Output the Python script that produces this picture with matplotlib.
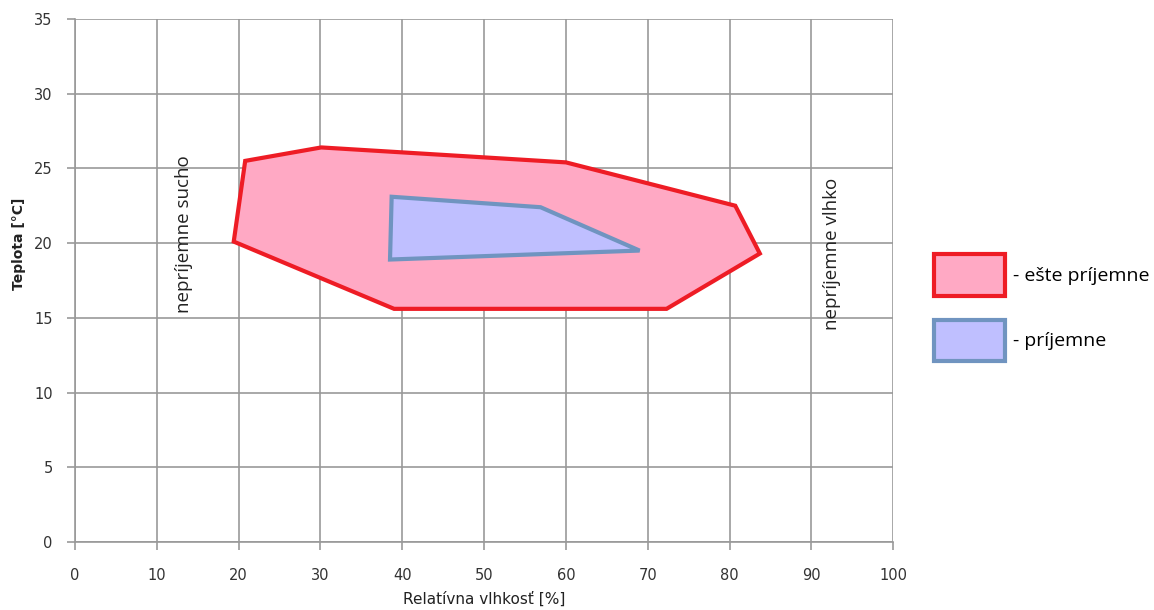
import matplotlib
matplotlib.use("Agg")
import matplotlib.pyplot as plt
from matplotlib.patches import Polygon

# comfort zones (relative humidity %, temperature °C)
still_ok_rh = [19.4, 20.8, 30.1, 60.0, 80.7, 83.7, 72.3, 39.0]
still_ok_t = [20.1, 25.5, 26.4, 25.4, 22.5, 19.3, 15.6, 15.6]
comfort_rh = [38.7, 56.9, 69.0, 38.5]
comfort_t = [23.1, 22.4, 19.5, 18.9]

x_ticks = list(range(0, 101, 10))
y_ticks = list(range(0, 36, 5))

zone_labels = ["- ešte príjemne", "- príjemne"]
side_notes = [("nepríjemne sucho", 13.3, 20.6), ("nepríjemne vlhko", 92.5, 19.3)]

plt.rcParams["font.family"] = ["DejaVu Sans"]

fig = plt.figure(figsize=(11.54, 6.10), dpi=100)
ax = fig.add_axes([0.065, 0.1115, 0.709, 0.8575])

red = Polygon(list(zip(still_ok_rh, still_ok_t)), closed=True,
              facecolor="#ffa9c4", edgecolor="#ee1c25", lw=3, joinstyle="miter",
              label=zone_labels[0], zorder=3)
blue = Polygon(list(zip(comfort_rh, comfort_t)), closed=True,
               facecolor="#bfbfff", edgecolor="#7094c0", lw=3, joinstyle="miter",
               label=zone_labels[1], zorder=4)
ax.add_patch(red)
ax.add_patch(blue)

for txt, xx, yy in side_notes:
    ax.text(xx, yy, txt, rotation=90, ha="center", va="center",
            fontsize=13.5, family="Open Sans", color="#222222", zorder=5)

ax.set_xlim(0, 100)
ax.set_ylim(0, 35)
ax.set_xticks(x_ticks)
ax.set_yticks(y_ticks)
ax.grid(True, color="#999999", lw=1.2)
ax.set_axisbelow(True)
for s in ["top", "right"]:
    ax.spines[s].set_visible(False)
for s in ["left", "bottom"]:
    ax.spines[s].set_color("#999999")
    ax.spines[s].set_linewidth(1.2)
ax.tick_params(axis="both", colors="#999999", length=6, width=1.2,
               labelsize=10.5, labelcolor="#333333")
ax.tick_params(axis="x", pad=13)
ax.tick_params(axis="y", pad=10)

ax.set_xlabel("Relatívna vlhkosť [%]", fontsize=11, color="#222222")
ax.xaxis.set_label_coords(0.5, -0.095)
ax.set_ylabel("Teplota [°C]", fontsize=10, fontweight="bold", color="#222222")
ax.yaxis.set_label_coords(-0.06, 0.57)

fig.legend(handles=[red, blue], loc="upper left", bbox_to_anchor=(0.794, 0.612),
           frameon=False, handlelength=3.65, handleheight=2.9,
           labelspacing=1.25, handletextpad=0.45, prop={"family": "Open Sans", "size": 14})

fig.savefig("out.png", dpi=100)
